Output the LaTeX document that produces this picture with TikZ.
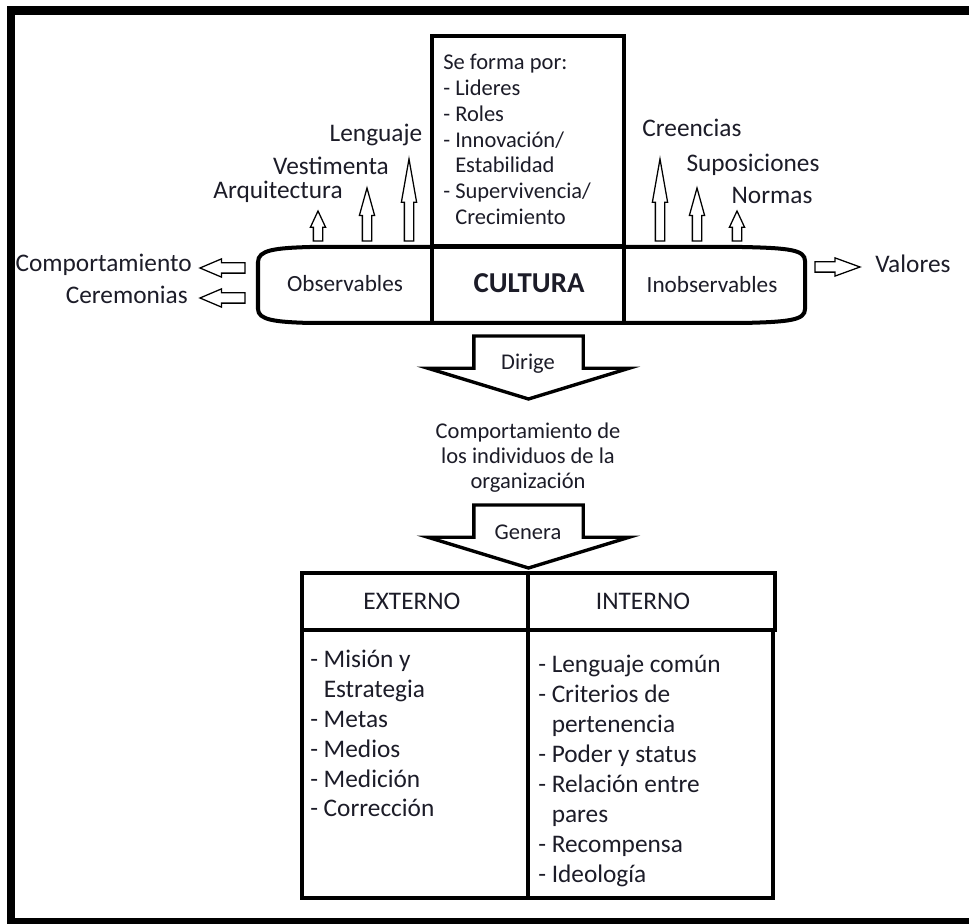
\documentclass[tikz,border=0pt]{standalone}
\usepackage{fontspec}
\setmainfont{Carlito}
\usepackage{tikz}
\usetikzlibrary{shapes.arrows, positioning}
\definecolor{inkText}{HTML}{1C1C28}
\newdimen\pxu \pxu=0.025cm
\tikzset{
    % text styles
    side label/.style={font=\fontsize{18}{21}\selectfont, text=inkText, inner sep=0pt},
    box text/.style={font=\fontsize{16}{18}\selectfont, text=inkText, inner sep=0pt},
    flow text/.style={font=\fontsize{16}{17.8}\selectfont, text=inkText, inner sep=0pt, align=center},
    list text/.style={font=\fontsize{18}{21}\selectfont, text=inkText, inner sep=0pt, anchor=base west},
    % boxes
    thick box/.style={draw, rectangle, line width=2.85pt, inner sep=0pt, outer sep=0pt, anchor=north west},
    % small open block arrows
    smallarrow/.style={single arrow, draw, line width=0.9pt, inner xsep=0pt, inner ysep=4\pxu,
        single arrow head extend=3\pxu, single arrow tip angle=#1, outer sep=0pt, anchor=tail},
    % big open block arrows
    bigarrow/.style={single arrow, draw, line width=2.4pt, inner xsep=0pt, inner ysep=53\pxu,
        single arrow head extend=46\pxu, minimum height=63\pxu,
        single arrow tip angle=146, rotate=-90, outer sep=0pt, anchor=tail},
}

\begin{document}
\begin{tikzpicture}[x=0.025cm, y=-0.025cm]
    \useasboundingbox (0,0) rectangle (969,924);
    \clip (0,0) rectangle (969,924);
    \fill[white] (0,0) rectangle (969,924);

    % outer frame
    \draw[line width=5.7pt] (11,10.5) rectangle (990,922.5);

    % center box and band
    \node (forma) [thick box, minimum width=192\pxu, minimum height=210\pxu] at (432,36) {};
    \foreach \ln [count=\i] in {Se forma por:, - Lideres, - Roles, - Innovación/,
        \hphantom{- }Estabilidad, - Supervivencia/, \hphantom{- }Crecimiento}
        \node (forma\i) [box text, anchor=base west] at (443, {70+25.7*(\i-1)}) {\ln};

    \draw[line width=2.85pt] (258,262) .. controls (258,250) and (275,248) .. (310,247)
        -- (742,247) .. controls (790,248) and (805,250) .. (805,261) -- (805,309)
        .. controls (805,320) and (790,322) .. (742,323) -- (310,323)
        .. controls (275,322) and (258,320) .. (258,309) -- cycle;
    \draw[line width=2.85pt] (432,246) -- (432,323);
    \draw[line width=2.85pt] (624,246) -- (624,323);

    \node (obs) [box text, anchor=base, font=\fontsize{16.5}{18}\selectfont] at (345,292) {Observables};
    \node (cultura) [side label, anchor=base, font=\fontsize{20.5}{24}\selectfont\bfseries] at (529,293) {CULTURA};
    \node (inobs) [box text, anchor=base, font=\fontsize{16.5}{18}\selectfont] at (712,293) {Inobservables};

    % observable side
    \node (arq) [side label, anchor=base] at (278,199) {Arquitectura};
    \node (vest) [side label, anchor=base] at (331,175) {Vestimenta};
    \node (leng) [side label, anchor=base] at (376,142) {Lenguaje};
    \node (arqA) [smallarrow=50, minimum height=30\pxu, rotate=90] at (318,241) {};
    \node (vestA) [smallarrow=31, minimum height=53\pxu, rotate=90] at (367,241) {};
    \node (lengA) [smallarrow=20, minimum height=82\pxu, rotate=90] at (409,241) {};

    \node (comp) [side label, anchor=base east] at (192,272) {Comportamiento};
    \node (cere) [side label, anchor=base east] at (188,304) {Ceremonias};
    \node (compA) [smallarrow=46, inner ysep=4.5\pxu, single arrow head extend=4\pxu,
        minimum height=45\pxu, rotate=180] at (245,268) {};
    \node (cereA) [smallarrow=46, inner ysep=4.5\pxu, single arrow head extend=4\pxu,
        minimum height=45\pxu, rotate=180] at (245,298) {};

    % inobservable side
    \node (cree) [side label, anchor=base] at (692,137) {Creencias};
    \node (supo) [side label, anchor=base] at (753,172) {Suposiciones};
    \node (norm) [side label, anchor=base] at (772,204) {Normas};
    \node (creeA) [smallarrow=20, minimum height=82\pxu, rotate=90] at (660,241) {};
    \node (supoA) [smallarrow=31, minimum height=53\pxu, rotate=90] at (697,241) {};
    \node (normA) [smallarrow=50, minimum height=30\pxu, rotate=90] at (737,241) {};

    \node (valA) [smallarrow=40, inner ysep=4.5\pxu, single arrow head extend=4\pxu,
        minimum height=45\pxu] at (815,267) {};
    \node (val) [side label, anchor=base west] at (875,273) {Valores};

    % flow down
    \node (dirA) [bigarrow] at (528.5,336) {};
    \node (dirige) [flow text, anchor=base] at (528,370) {Dirige};
    \node (indiv) [flow text] at (528,458) {Comportamiento de\\los individuos de la\\organización};
    \node (genA) [bigarrow] at (528.5,505) {};
    \node (genera) [flow text, anchor=base] at (528,540) {Genera};

    % table
    \node (head) [thick box, minimum width=473\pxu, minimum height=57\pxu] at (302,573) {};
    \node (body) [thick box, minimum width=471\pxu, minimum height=268\pxu] at (302,630) {};
    \draw[line width=2.85pt] (528,573) -- (528,898);
    \node (ext) [list text, anchor=base] at (412,610) {EXTERNO};
    \node (int) [list text, anchor=base] at (643,610) {INTERNO};
    \foreach \ln [count=\i] in {- Misión y, \hphantom{- }Estrategia, - Metas, - Medios,
        - Medición, - Corrección}
        \node (ext\i) [list text] at (310, {668+29.8*(\i-1)}) {\ln};
    \foreach \ln [count=\i] in {- Lenguaje común, - Criterios de, \hphantom{- }pertenencia,
        - Poder y status, - Relación entre, \hphantom{- }pares, - Recompensa, - Ideología}
        \node (int\i) [list text] at (538, {673+30*(\i-1)}) {\ln};
\end{tikzpicture}
\end{document}
